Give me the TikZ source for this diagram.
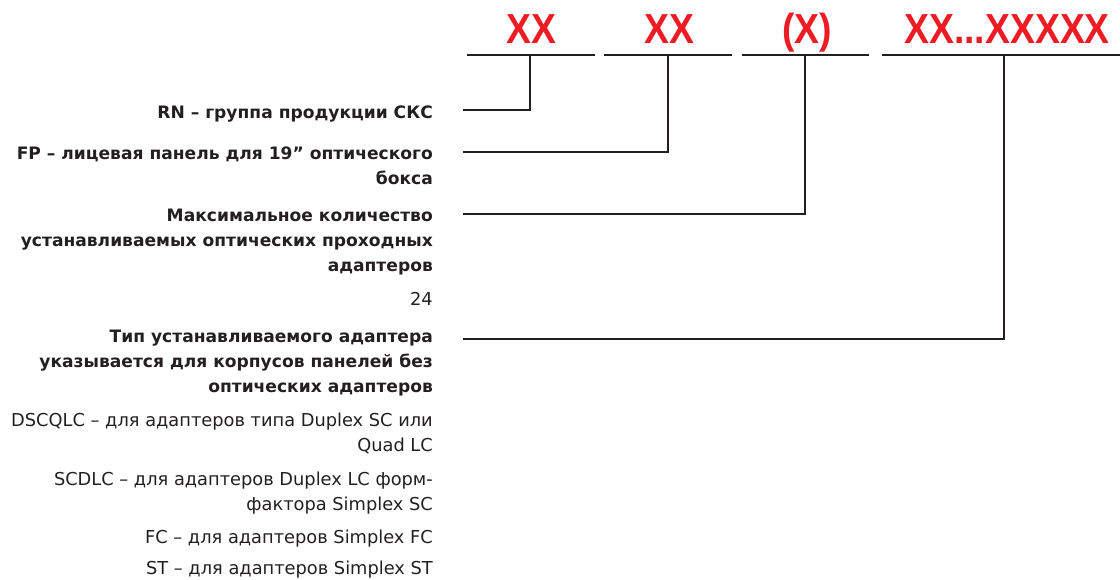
\documentclass[tikz,border=0pt]{standalone}
\usepackage{fontspec}
\setmainfont{DejaVu Sans}
\newfontfamily\redfont[FakeStretch=0.89]{Liberation Sans}
\definecolor{codered}{HTML}{ED1C24}
\definecolor{ink}{HTML}{231F20}
\begin{document}
\begin{tikzpicture}[x=1pt,y=-1pt,
  bar/.style={line width=2pt, draw=ink},
  link/.style={line width=2pt, draw=ink},
  code/.style={font=\redfont\bfseries\fontsize{42}{42}\selectfont, text=codered, inner sep=0, anchor=base},
  head/.style={font=\bfseries\fontsize{17.1}{25}\selectfont, text=ink, inner sep=0, anchor=base east},
  opt/.style={font=\fontsize{17.8}{25}\selectfont, text=ink, inner sep=0, anchor=base east}]
\useasboundingbox (0,0) rectangle (1120,579);
% codes
\node[code] (c1) at (531,43) {XX};
\node[code] (c2) at (669,43) {XX};
\node[code] (c3) at (807,43) {(X)};
\node[code] (c4) at (1007,43) {XX...XXXXX};
% bars
\coordinate (s1) at (467,55); \coordinate (t1) at (595,55);
\coordinate (s2) at (604,55); \coordinate (t2) at (732,55);
\coordinate (s3) at (742,55); \coordinate (t3) at (869,55);
\coordinate (s4) at (882,55); \coordinate (t4) at (1120,55);
\draw[bar] (s1) -- (t1);
\draw[bar] (s2) -- (t2);
\draw[bar] (s3) -- (t3);
\draw[bar] (s4) -- (t4);
\coordinate (b1) at (530,55);
\coordinate (b2) at (668,55);
\coordinate (b3) at (805,55);
\coordinate (b4) at (1004,55);
\coordinate (e1) at (463,110);
\coordinate (e2) at (463,152);
\coordinate (e3) at (463,214);
\coordinate (e4) at (463,339);
\draw[link] (b1) |- (e1);
\draw[link] (b2) |- (e2);
\draw[link] (b3) |- (e3);
\draw[link] (b4) |- (e4);
% texts
\node[head] (rn) at (433,118) {RN – группа продукции СКС};
\node[head] (fp1) at (433,159) {FP – лицевая панель для 19" оптического};
\node[head] (fp2) at (433,184) {бокса};
\node[head] (mx1) at (433,221) {Максимальное количество};
\node[head] (mx2) at (433,246) {устанавливаемых оптических проходных};
\node[head] (mx3) at (433,271) {адаптеров};
\node[opt] (n24) at (433,305) {24};
\node[head] (tp1) at (433,342) {Тип устанавливаемого адаптера};
\node[head] (tp2) at (433,367) {указывается для корпусов панелей без};
\node[head] (tp3) at (433,392) {оптических адаптеров};
\node[opt] (o1a) at (433,426) {DSCQLC – для адаптеров типа Duplex SC или};
\node[opt] (o1b) at (433,451) {Quad LC};
\node[opt] (o2a) at (433,485) {SCDLC – для адаптеров Duplex LC форм-};
\node[opt] (o2b) at (433,510) {фактора Simplex SC};
\node[opt] (o3) at (433,543) {FC – для адаптеров Simplex FC};
\node[opt] (o4) at (433,574) {ST – для адаптеров Simplex ST};
\end{tikzpicture}
\end{document}
